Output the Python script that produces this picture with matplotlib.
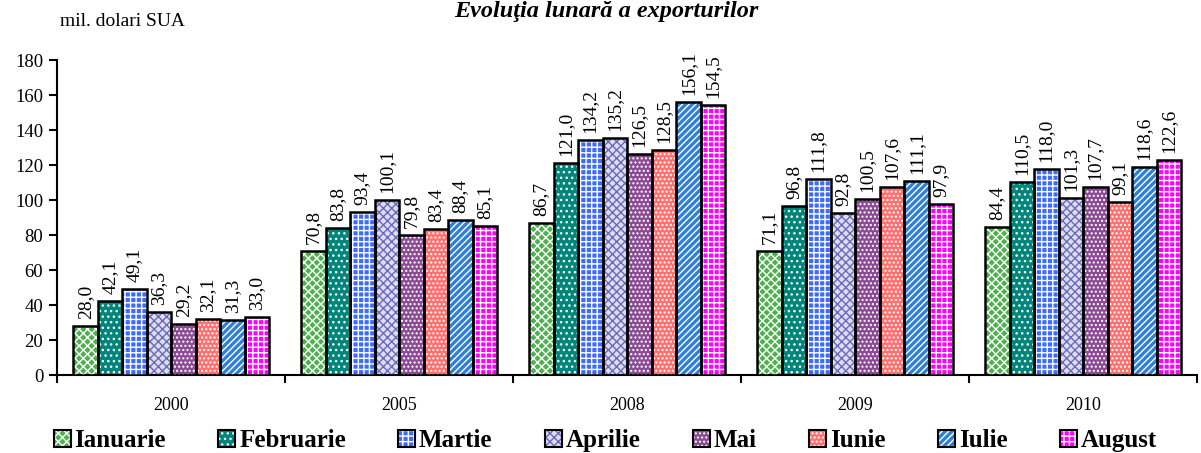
"""Monthly exports by year, grouped hatched bars."""

import matplotlib

matplotlib.use("Agg")
import matplotlib.pyplot as plt
import numpy as np
from matplotlib.legend_handler import HandlerTuple
from matplotlib.patches import Rectangle

years = ["2000", "2005", "2008", "2009", "2010"]
months = ["Ianuarie", "Februarie", "Martie", "Aprilie", "Mai", "Iunie", "Iulie", "August"]

ianuarie = [28.0, 70.8, 86.7, 71.1, 84.4]
februarie = [42.1, 83.8, 121.0, 96.8, 110.5]
martie = [49.1, 93.4, 134.2, 111.8, 118.0]
aprilie = [36.3, 100.1, 135.2, 92.8, 101.3]
mai = [29.2, 79.8, 126.5, 100.5, 107.7]
iunie = [32.1, 83.4, 128.5, 107.6, 99.1]
iulie = [31.3, 88.4, 156.1, 111.1, 118.6]
august = [33.0, 85.1, 154.5, 97.9, 122.6]

series = [ianuarie, februarie, martie, aprilie, mai, iunie, iulie, august]

# face colour, hatch colour, hatch pattern
styles = [
    ("#4fb04f", "white", "xxxx"),
    ("#00857a", "white", "..."),
    ("#3d6bff", "white", "+++"),
    ("#dcdcf4", "#6a6ab8", "xxxx"),
    ("#8a4a94", "white", "...."),
    ("#ff7070", "white", "...."),
    ("#2f7fd8", "white", "/////"),
    ("#ff00ff", "white", "+++"),
]

plt.rcParams["font.family"] = ["Liberation Serif", "DejaVu Serif"]
plt.rcParams["hatch.linewidth"] = 1.0

fig = plt.figure(figsize=(12.01, 4.53), dpi=100)
ax = fig.add_axes([0.0475, 0.172, 0.9492, 0.6955])

x = np.arange(len(years))
n = len(series)
width = 0.86 / n
handles = []
for i, (values, (face, hcol, hatch)) in enumerate(zip(series, styles)):
    pos = x - 0.43 + width * (i + 0.5)
    ax.bar(pos, values, width, color=face, linewidth=0, zorder=2)
    ax.bar(pos, values, width, fill=False, edgecolor=hcol, hatch=hatch, linewidth=0, zorder=3)
    ax.bar(pos, values, width, fill=False, edgecolor="black", linewidth=1.8, zorder=4)
    for xp, v in zip(pos, values):
        ax.text(xp, v + 4, f"{v:.1f}".replace(".", ","), rotation=90, ha="center", va="bottom",
                fontsize=14, zorder=5)
    handles.append((
        Rectangle((0, 0), 1, 1, facecolor=face, linewidth=0),
        Rectangle((0, 0), 1, 1, fill=False, edgecolor=hcol, hatch=hatch, linewidth=0),
        Rectangle((0, 0), 1, 1, fill=False, edgecolor="black", linewidth=1.5),
    ))

ax.set_xlim(-0.5, len(years) - 0.5)
ax.set_ylim(0, 180)
ax.set_yticks(np.arange(0, 181, 20))
ax.set_xticks(np.arange(-0.5, len(years), 1))
ax.set_xticklabels([])
ax.set_xticks(x, minor=True)
ax.set_xticklabels(years, minor=True, fontsize=13)
ax.tick_params(axis="x", which="minor", length=0, pad=16)
ax.tick_params(axis="x", which="major", length=6, width=1.5, direction="out")
ax.tick_params(axis="y", length=6, width=1.5, direction="out", labelsize=13.5, pad=4)
for side in ("top", "right"):
    ax.spines[side].set_visible(False)
for side in ("left", "bottom"):
    ax.spines[side].set_linewidth(1.5)

fig.text(0.05, 0.952, "mil. dolari SUA", fontsize=14, va="center", ha="left")
fig.text(0.505, 0.963, "Evoluţia lunară a exporturilor", fontsize=17.5, fontweight="bold",
         fontstyle="italic", ha="center", va="baseline")

fig.legend(handles, months, handler_map={tuple: HandlerTuple(ndivide=1, pad=0)},
           loc="center", bbox_to_anchor=(0.504, 0.027), ncol=8, frameon=False,
           prop={"weight": "bold", "size": 18}, handlelength=0.68, handleheight=0.68,
           handletextpad=0.15, columnspacing=2.1, borderaxespad=0)

fig.savefig("out.png", dpi=100)
